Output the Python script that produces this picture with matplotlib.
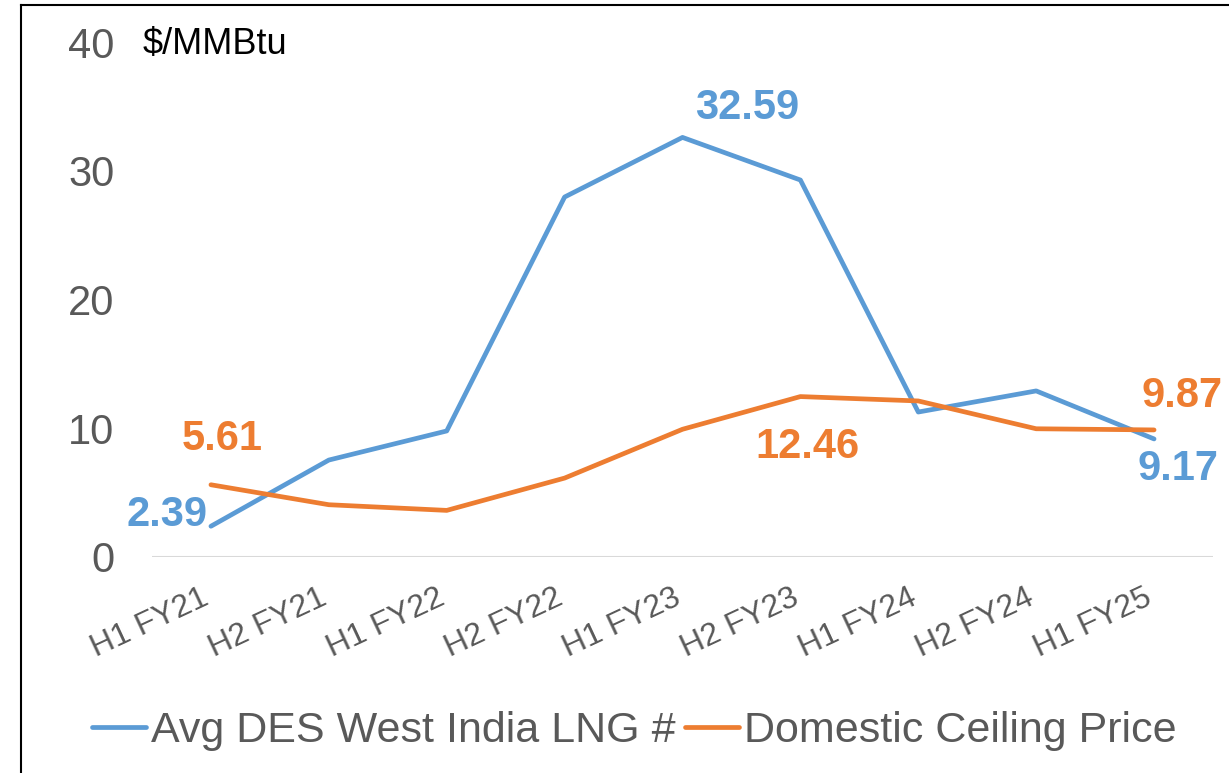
import matplotlib
matplotlib.use("Agg")
import matplotlib.pyplot as plt
import matplotlib.transforms as mtransforms
from matplotlib.lines import Line2D

plt.rcParams['font.family'] = ['Liberation Sans', 'DejaVu Sans']

# data
periods = ["H1 FY21", "H2 FY21", "H1 FY22", "H2 FY22", "H1 FY23",
           "H2 FY23", "H1 FY24", "H2 FY24", "H1 FY25"]
lng_des = [2.39, 7.53, 9.79, 27.96, 32.59, 29.28, 11.26, 12.9, 9.17]
ceiling = [5.61, 4.06, 3.62, 6.13, 9.92, 12.46, 12.12, 9.96, 9.87]

BLUE = "#5B9BD5"
ORANGE = "#ED7D31"
GREY = "#595959"

fig = plt.figure(figsize=(12.29, 7.73), dpi=100)
ax = fig.add_axes([152 / 1229, 1 - 557 / 773, (1213 - 152) / 1229, (557 - 42) / 773])

xs = list(range(len(periods)))
ax.plot(xs, lng_des, color=BLUE, lw=3.4, label="Avg DES West India LNG #", solid_capstyle='round')
ax.plot(xs, ceiling, color=ORANGE, lw=3.4, label="Domestic Ceiling Price", solid_capstyle='round')

ax.set_xlim(-0.5, len(periods) - 0.5)
ax.set_ylim(0, 40)
ax.set_yticks([0, 10, 20, 30, 40])
ax.set_xticks(xs)
ax.set_xticklabels(periods, rotation=25, ha='right', rotation_mode='anchor',
                   fontsize=23, color=GREY)
ax.tick_params(axis='y', labelsize=30, labelcolor=GREY, length=0, pad=27)
ax.tick_params(axis='x', length=0, pad=22)
shift = mtransforms.ScaledTranslation(-10 / 100, 5 / 100, fig.dpi_scale_trans)
for lbl in ax.get_xticklabels():
    lbl.set_transform(lbl.get_transform() + shift)
for s in ax.spines.values():
    s.set_visible(False)
ax.axhline(0, color="#D9D9D9", lw=1.5, zorder=0)

# data labels (index, series, colour, offset px, alignment)
labels = [
    (0, lng_des, BLUE, (-3, 11), 'right'),
    (0, ceiling, ORANGE, (11, 46), 'center'),
    (4, lng_des, BLUE, (65, 29), 'center'),
    (5, ceiling, ORANGE, (7, -50), 'center'),
    (8, ceiling, ORANGE, (28, 34), 'center'),
    (8, lng_des, BLUE, (24, -30), 'center'),
]
for i, series, col, off, ha in labels:
    ax.annotate(f"{series[i]:.2f}", (i, series[i]), xytext=off,
                textcoords='offset pixels', ha=ha, va='center',
                fontsize=30, fontweight='bold', color=col)

fig.text(143 / 1229, 1 - 45 / 773, "$/MMBtu", fontsize=26, color='black', va='center')

fig.legend(loc='center', bbox_to_anchor=(0.516, 0.054), ncol=2, frameon=False,
           fontsize=31, labelcolor=GREY, handlelength=1.25, handletextpad=0.12,
           columnspacing=0.22)

# frame lines along left and top edge
fig.add_artist(Line2D([21 / 1229, 21 / 1229], [0, 1 - 5 / 773], color='black', lw=1.5))
fig.add_artist(Line2D([21 / 1229, 1], [1 - 5 / 773, 1 - 5 / 773], color='black', lw=1.5))

fig.savefig("out.png", dpi=100)
